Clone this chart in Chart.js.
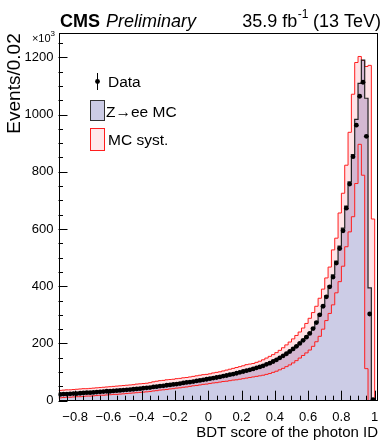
<!DOCTYPE html>
<html><head><meta charset="utf-8">
<script src="https://cdn.jsdelivr.net/npm/chart.js@4/dist/chart.umd.min.js"></script>
<style>html,body{margin:0;padding:0;background:#fff;}canvas{display:block;}</style>
</head><body>
<canvas id="c" width="382" height="443" style="width:382px;height:443px"></canvas>
<script>
// Histogram binning: 96 bins of width 0.02 starting at -0.9 (values in units of 10^3 events)
const binLow = -0.9;
const binWidth = 0.02;

const dataEvents = [
 22,23,23,24,25,25,26,27,28,28,
 29,30,31,32,33,33,34,35,36,37,
 38,39,40,41,42,44,45,46,48,49,
 51,52,54,55,57,58,60,62,64,65,
 67,69,71,73,75,77,79,81,83,86,
 88,91,93,96,99,102,105,108,111,115,
 118,122,127,131,137,143,150,157,164,172,
 181,190,200,211,222,235,252,273,300,330,
 363,398,432,481,532,594,673,757,853,963,
 1064,1113,924,303,4,null];

const mcEvents = [
 22,23,24,24,25,26,26,27,28,29,
 29,30,31,32,33,34,34,35,36,37,
 38,39,40,41,43,44,45,47,48,50,
 51,53,54,56,57,59,61,62,64,66,
 68,70,72,74,76,78,80,82,84,87,
 89,92,94,97,100,103,106,109,113,116,
 120,124,128,133,138,144,151,158,166,174,
 183,192,202,213,225,238,255,276,303,333,
 366,401,440,488,540,603,680,765,860,983,
 1109,1190,1057,394,0,0];

const systUp = [
 36,37,38,38,39,40,41,42,42,43,
 44,45,46,47,48,49,50,51,52,53,
 54,55,56,58,59,60,61,63,66,68,
 70,71,73,74,75,77,78,80,81,83,
 85,87,89,91,92,94,97,99,101,104,
 107,110,113,116,119,122,126,128,130,134,
 138,143,149,155,161,168,176,185,195,205,
 216,228,240,254,270,288,308,330,358,390,
 429,467,527,568,656,725,823,938,1071,1182,
 1203,1189,1168,1172,635,0];

const systDown = [
 10,11,12,12,13,14,14,15,16,16,
 17,18,19,19,20,21,22,22,23,24,
 25,26,27,28,29,30,31,32,34,35,
 37,38,39,41,42,44,45,47,48,50,
 52,53,55,57,58,60,62,63,65,67,
 68,70,72,73,75,77,79,81,83,85,
 87,89,92,95,99,103,108,113,119,125,
 132,140,149,158,167,177,190,206,225,250,
 280,305,335,377,416,470,538,590,643,759,
 896,788,112,0,0,0];

const xTickValues = [-0.8,-0.6,-0.4,-0.2,0,0.2,0.4,0.6,0.8,1];
const xTickLabels = ['\u22120.8','\u22120.6','\u22120.4','\u22120.2','0','0.2','0.4','0.6','0.8','1'];
const yTickValues = [0,200,400,600,800,1000,1200];
const yTickLabels = ['0','200','400','600','800','1000','1200'];

const FONT = 'Liberation Sans';
const LAVENDER = 'rgb(204,204,230)';
const BAND = 'rgba(255,90,110,0.17)';
const RED = 'rgb(255,30,30)';

function edge(i){ return +(binLow + i*binWidth).toFixed(4); }
function stepPoints(vals){
  const pts = vals.map((v,i)=>({x: edge(i), y: v}));
  pts.push({x: edge(vals.length), y: 0});
  return pts;
}
function centerPoints(vals){
  const pts = [];
  vals.forEach((v,i)=>{ if (v !== null) pts.push({x: +(binLow + (i+0.5)*binWidth).toFixed(4), y: v}); });
  return pts;
}

const decor = {
  id: 'decor',
  afterDatasetsDraw(chart){
    const {ctx, chartArea: a, scales: {x, y}} = chart;
    ctx.save();
    ctx.strokeStyle = '#000';
    ctx.lineWidth = 1;
    ctx.beginPath();
    for (let k = 0; k <= 38; k++) {
      const v = +(binLow + k*0.05).toFixed(3);
      if (v > 1.0001) break;
      const major = xTickValues.some(t => Math.abs(t - v) < 1e-6);
      const px = Math.round(x.getPixelForValue(v)) + 0.5;
      ctx.moveTo(px, a.bottom);
      ctx.lineTo(px, a.bottom - (major ? 10 : 5));
    }
    for (let v = 0; v <= 1250; v += 50) {
      const major = yTickValues.includes(v);
      const py = Math.round(y.getPixelForValue(v)) + 0.5;
      ctx.moveTo(a.left, py);
      ctx.lineTo(a.left + (major ? 9 : 4.5), py);
    }
    ctx.stroke();
    ctx.strokeRect(Math.round(a.left)+0.5, Math.round(a.top)+0.5,
                   Math.round(a.right)-Math.round(a.left)-1, Math.round(a.bottom)-Math.round(a.top)-1);
    ctx.restore();
  },
  afterDraw(chart){
    const {ctx, chartArea: a} = chart;
    ctx.save();
    ctx.fillStyle = '#000';
    ctx.textBaseline = 'alphabetic';
    ctx.font = 'bold 18px "' + FONT + '"';
    ctx.textAlign = 'left';
    ctx.fillText('CMS', 60, 26.5);
    const wCMS = ctx.measureText('CMS').width;
    ctx.font = 'italic 18px "' + FONT + '"';
    ctx.fillText('Preliminary', 60 + wCMS + 6, 26.5);
    ctx.font = '18px "' + FONT + '"';
    const t1 = '35.9 fb', t3 = ' (13 TeV)';
    const w1 = ctx.measureText(t1).width, w3 = ctx.measureText(t3).width;
    ctx.font = '12px "' + FONT + '"';
    const t2 = '-1';
    const w2 = ctx.measureText(t2).width;
    const xs = 381 - w1 - w2 - w3;
    ctx.font = '18px "' + FONT + '"';
    ctx.fillText(t1, xs, 26.5);
    ctx.font = '12px "' + FONT + '"';
    ctx.fillText(t2, xs + w1 + 0.5, 18);
    ctx.font = '18px "' + FONT + '"';
    ctx.fillText(t3, xs + w1 + w2, 26.5);
    // x10^3
    ctx.textAlign = 'right';
    ctx.font = '8px "' + FONT + '"';
    const e3w8 = ctx.measureText('3').width;
    ctx.fillText('3', 55, 36);
    ctx.font = '11px "' + FONT + '"';
    ctx.fillText('\u00d710', 55 - e3w8, 41.5);
    // legend
    ctx.textAlign = 'left';
    ctx.font = '15.5px "' + FONT + '"';
    ctx.beginPath();
    ctx.moveTo(97.5, 73); ctx.lineTo(97.5, 90);
    ctx.lineWidth = 1; ctx.strokeStyle = '#000'; ctx.stroke();
    ctx.beginPath(); ctx.arc(97.5, 81.5, 2.4, 0, Math.PI*2); ctx.fill();
    ctx.fillText('Data', 108, 87);
    ctx.fillStyle = LAVENDER;
    ctx.fillRect(91, 100, 14, 20);
    ctx.strokeStyle = '#333';
    ctx.strokeRect(90.5, 100.5, 14, 20);
    ctx.fillStyle = '#000';
    ctx.fillText('Z\u2192ee MC', 106, 117);
    ctx.fillStyle = 'rgb(255,232,235)';
    ctx.fillRect(91, 128, 14, 22);
    ctx.strokeStyle = RED;
    ctx.strokeRect(90.5, 128.5, 14, 22);
    ctx.fillStyle = '#000';
    ctx.fillText('MC syst.', 108, 145);
    ctx.restore();
  }
};

new Chart(document.getElementById('c'), {
  type: 'line',
  data: {
    datasets: [
      { label: 'Z\u2192ee MC fill', data: stepPoints(mcEvents), stepped: true, borderWidth: 0,
        borderColor: 'rgba(0,0,0,0)', backgroundColor: LAVENDER, fill: 'origin', pointRadius: 0, order: 6 },
      { label: 'MC syst. up', data: stepPoints(systUp), stepped: true, borderWidth: 1,
        borderColor: RED, backgroundColor: BAND, fill: '+1', pointRadius: 0, order: 5 },
      { label: 'MC syst. down', data: stepPoints(systDown), stepped: true, borderWidth: 1,
        borderColor: RED, fill: false, pointRadius: 0, order: 4 },
      { label: 'Z\u2192ee MC', data: stepPoints(mcEvents), stepped: true, borderWidth: 1.2,
        borderColor: '#222', fill: false, pointRadius: 0, order: 3 },
      { type: 'scatter', label: 'Data', data: centerPoints(dataEvents), showLine: false,
        pointRadius: 2.4, pointBackgroundColor: '#000', pointBorderWidth: 0, order: 1 }
    ]
  },
  options: {
    responsive: false,
    devicePixelRatio: 1,
    animation: false,
    events: [],
    layout: { padding: { top: 33.3, right: 0, bottom: 0, left: 0 } },
    plugins: { legend: { display: false }, tooltip: { enabled: false } },
    scales: {
      x: {
        type: 'linear', min: -0.9, max: 1.02,
        afterBuildTicks: s => { s.ticks = xTickValues.map(v => ({ value: v })); },
        afterFit: s => { s.height = 42.3; s.paddingLeft = 0; s.paddingRight = 0; },
        grid: { display: false, drawTicks: false },
        border: { display: false },
        ticks: { padding: 9, color: '#000', maxRotation: 0, autoSkip: false,
                 font: { family: FONT, size: 13 },
                 callback: v => xTickLabels[xTickValues.findIndex(t => Math.abs(t - v) < 1e-6)] },
        title: { display: true, text: 'BDT score of the photon ID', align: 'end', color: '#000',
                 font: { family: FONT, size: 15 }, padding: 1 }
      },
      y: {
        type: 'linear', min: 0, max: 1284,
        afterBuildTicks: s => { s.ticks = yTickValues.map(v => ({ value: v })); },
        afterFit: s => { s.width = 58.5; s.paddingTop = 0; s.paddingBottom = 0; },
        grid: { display: false, drawTicks: false },
        border: { display: false },
        ticks: { padding: 5, color: '#000', font: { family: FONT, size: 13 },
                 callback: v => yTickLabels[yTickValues.indexOf(v)] },
        title: { display: true, text: 'Events/0.02', align: 'end', color: '#000',
                 font: { family: FONT, size: 19 }, padding: 3 }
      }
    }
  },
  plugins: [decor]
});
</script>
</body></html>
